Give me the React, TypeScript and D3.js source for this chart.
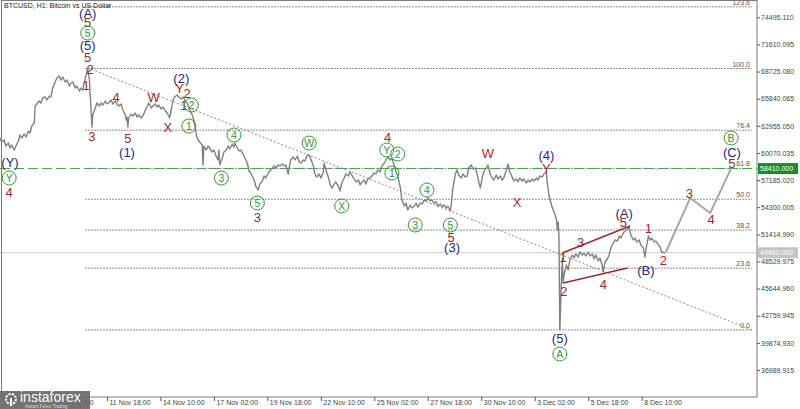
import React, { useEffect, useRef } from "react";
import * as d3 from "d3";

// H1 BTCUSD, hours counted from 6 Nov 2021 10:00
const START = Date.UTC(2021, 10, 6, 10);
const END_HOURS = 906;

// [hour, close]
const btcClose: [number, number][] = [
	[0, 61660], [2, 61234], [5, 61447], [7, 60809], [10, 61128], [12, 60596], [14, 60916], [17, 60384],
	[19, 60809], [22, 61341], [24, 61979], [26, 61660], [29, 62085], [31, 61766], [34, 62405], [36, 62192],
	[38, 62936], [41, 63255], [42, 65063], [44, 65276], [47, 65595], [49, 65382], [51, 65914], [54, 66020],
	[56, 65701], [59, 66126], [61, 66020], [63, 66977], [66, 67615], [68, 68040], [71, 68253], [73, 67828],
	[75, 68147], [78, 67615], [80, 67828], [83, 67190], [85, 67509], [87, 67615], [90, 66977], [92, 67190],
	[95, 66658], [97, 66977], [99, 66764], [101, 67615], [103, 68360], [105, 69104], [107, 67828], [108, 66233],
	[109, 64638], [110, 62830], [111, 64106], [114, 64850], [116, 65382], [119, 65063], [121, 65382], [123, 65169],
	[126, 65595], [128, 65276], [130, 65382], [133, 65701], [135, 65276], [138, 65595], [140, 65276], [142, 65063],
	[145, 65276], [147, 64638], [150, 64106], [151, 63574], [152, 63893], [153, 62830], [154, 63787], [157, 64212],
	[159, 63999], [162, 64319], [164, 63893], [166, 64106], [169, 63787], [171, 63999], [174, 64638], [176, 64957],
	[178, 65382], [181, 64850], [183, 65063], [186, 65276], [188, 64957], [190, 65169], [193, 64744], [195, 64957],
	[198, 64531], [200, 64319], [202, 63999], [203, 63787], [205, 64638], [207, 65701], [209, 66020], [212, 66233],
	[214, 66020], [217, 65808], [219, 66020], [221, 65701], [224, 65382], [226, 64850], [229, 64319], [231, 63893],
	[233, 63043], [235, 61979], [237, 61447], [239, 61234], [242, 60916], [243, 58789], [244, 60809], [247, 60384],
	[249, 60809], [251, 60596], [254, 60171], [256, 60384], [259, 59640], [261, 59321], [262, 60384], [263, 58789],
	[266, 59533], [268, 60171], [271, 60384], [273, 60809], [275, 60490], [278, 61021], [280, 60703], [281, 61128],
	[284, 60596], [286, 60277], [288, 60384], [291, 59958], [293, 59533], [296, 59001], [298, 58150], [300, 57938],
	[303, 57406], [305, 56981], [306, 56555], [309, 56130], [311, 56768], [314, 57087], [316, 57619], [318, 57406],
	[321, 57938], [323, 58150], [326, 58470], [328, 58682], [330, 58470], [333, 58789], [335, 58682], [338, 58895],
	[340, 58682], [342, 58789], [345, 57832], [346, 58470], [348, 59321], [351, 59640], [353, 59321], [356, 59746],
	[358, 59108], [360, 59001], [363, 59321], [365, 59214], [367, 59746], [370, 59852], [372, 59427], [375, 58682],
	[377, 57832], [379, 57513], [382, 57832], [384, 57406], [387, 58045], [388, 59001], [390, 58257], [393, 57513],
	[395, 56768], [397, 56343], [400, 56768], [402, 56981], [405, 56555], [407, 56024], [409, 56875], [412, 57406],
	[414, 57832], [417, 57619], [419, 58045], [421, 57726], [424, 57300], [426, 56981], [429, 57194], [431, 56662],
	[433, 56981], [436, 57194], [438, 56768], [440, 57300], [443, 57406], [445, 57619], [448, 57938], [450, 57832],
	[452, 58257], [455, 58045], [457, 58682], [460, 59001], [462, 59321], [464, 59640], [467, 59321], [469, 59533],
	[472, 58682], [474, 58045], [476, 57619], [479, 56449], [481, 55067], [484, 54429], [486, 54748], [488, 54003],
	[491, 54535], [493, 54216], [496, 54429], [498, 54748], [500, 54322], [503, 54748], [505, 54641], [508, 55067],
	[510, 54961], [512, 55280], [515, 54961], [517, 55067], [519, 54748], [522, 54854], [524, 54429], [527, 54641],
	[529, 54322], [531, 54535], [534, 54216], [536, 54429], [539, 53897], [540, 54535], [542, 56343], [545, 57832],
	[547, 58257], [549, 57726], [552, 57406], [554, 57832], [557, 57513], [559, 57619], [561, 58470], [564, 58789],
	[566, 58363], [569, 58470], [571, 57832], [573, 56981], [575, 56343], [577, 57406], [579, 58045], [582, 58470],
	[584, 58789], [587, 57726], [589, 57406], [591, 57194], [594, 57726], [596, 57300], [599, 57619], [601, 57194],
	[603, 57406], [606, 58257], [608, 58895], [610, 58045], [613, 57513], [615, 57087], [618, 57300], [620, 56981],
	[622, 57406], [625, 57087], [627, 57300], [630, 56875], [632, 57194], [634, 56981], [637, 57300], [639, 57087],
	[642, 57406], [644, 57194], [646, 57619], [649, 57513], [651, 57832], [654, 58045], [655, 56875], [657, 55599],
	[660, 54535], [662, 54003], [664, 53578], [666, 52940], [667, 51877], [668, 52727], [669, 51239], [670, 41243],
	[672, 46560], [673, 48899], [674, 46241], [675, 47092], [678, 48155], [680, 47623], [682, 48687], [685, 49218],
	[687, 48899], [689, 49325], [692, 49006], [694, 49538], [697, 49218], [699, 49431], [701, 49112], [704, 49538],
	[706, 49112], [709, 49325], [711, 48793], [713, 49218], [716, 48580], [718, 48899], [721, 48049], [722, 47411],
	[724, 48474], [727, 48793], [729, 49218], [731, 49963], [734, 50495], [736, 50814], [739, 50707], [741, 51239],
	[743, 51026], [746, 51558], [748, 51770], [751, 51983], [753, 52196], [755, 51345], [758, 50814], [760, 51026],
	[762, 50601], [765, 50814], [767, 50282], [770, 49963], [772, 49006], [773, 49750], [776, 51239], [778, 50814],
	[780, 51026], [783, 50601], [785, 50707], [788, 50282], [790, 50069], [792, 49538], [796, 49431],
];

// forecast path 2-3-4-5
const projHours = [797, 826, 850, 875];
const projPrices = [49538, 55280, 53685, 58430];

// wedge lines of the (A) wave
const channelUpper: [number, number][] = [[673, 49431], [754, 52302]];
const channelLower: [number, number][] = [[674, 46241], [751, 47836]];

// dotted trend line from the top
const trendLine: [number, number][] = [[105, 69104], [900, 41243]];

// fibonacci grid
const fibLow = 41250;
const fibHigh = 69050;
const fibLevels = [0, 23.6, 38.2, 50, 61.8, 76.4, 100, 123.6];
const fibHours = [102, 900];

const supportLevel = 58410;
const lastPrice = 49460;

const yTicks = [
	36989.915, 39874.93, 42759.945, 45644.96, 48529.975, 51414.99, 54300.005,
	57185.02, 60070.035, 62955.05, 65840.065, 68725.08, 71610.095, 74495.11,
];
const xTickLabels = [
	"2021-11-09 02:00", "2021-11-11 18:00", "2021-11-14 10:00", "2021-11-17 02:00",
	"2021-11-19 18:00", "2021-11-22 10:00", "2021-11-25 02:00", "2021-11-27 18:00",
	"2021-11-30 10:00", "2021-12-03 02:00", "2021-12-05 18:00", "2021-12-08 10:00",
];

// wave marks: hour, price, text, kind (r = red, b = navy, g = green circle)
const waveLabels: [number, number, string, string][] = [
	[105, 74953, "(A)", "b"], [105, 73996, "5", "r"], [105, 72826, "5", "g"], [105, 71550, "(5)", "b"],
	[105, 70274, "5", "r"], [108, 68998, "2", "r"], [103, 67296, "1", "r"], [139, 66020, "4", "r"],
	[184, 66020, "W", "r"], [201, 62830, "X", "r"], [217, 68040, "(2)", "b"], [215, 66977, "Y", "r"],
	[224, 66445, "2", "r"], [220, 65169, "1", "r"], [229, 65169, "2", "g"], [226, 62936, "1", "g"],
	[110, 61873, "3", "r"], [153, 61660, "5", "r"], [152, 60171, "(1)", "b"], [12, 59108, "(Y)", "b"],
	[11, 57406, "Y", "g"], [11, 55918, "4", "r"], [280, 61979, "4", "g"], [265, 57406, "3", "g"],
	[308, 54748, "5", "g"], [308, 53259, "3", "r"], [370, 61128, "W", "g"], [409, 54429, "X", "g"],
	[464, 61766, "4", "r"], [463, 60384, "Y", "g"], [476, 59958, "2", "g"], [469, 57938, "1", "g"],
	[511, 56130, "4", "g"], [497, 52408, "3", "g"], [539, 52408, "5", "g"], [540, 51132, "5", "r"],
	[541, 50069, "(3)", "b"], [584, 60065, "W", "r"], [619, 54854, "X", "r"], [654, 59852, "(4)", "b"],
	[654, 58470, "Y", "r"], [670, 40392, "(5)", "b"], [670, 38691, "A", "g"], [674, 49006, "1", "r"],
	[675, 45390, "2", "r"], [695, 50601, "3", "r"], [722, 46134, "4", "r"], [747, 53685, "(A)", "b"],
	[746, 52727, "5", "r"], [776, 52089, "1", "r"], [773, 47623, "(B)", "b"], [794, 48687, "2", "r"],
	[825, 55811, "3", "r"], [851, 53047, "4", "r"], [876, 59001, "5", "r"], [876, 60171, "(C)", "b"],
	[875, 61660, "B", "g"],
];

const W = 800;
const H = 409;
const PLOT_R = 757;
const PLOT_B = 397;
const FONT = "'Liberation Sans', Arial, sans-serif";
const RED = "#a0282b";
const NAVY = "#1f2a80";
const GREEN = "#2f9a36";

const hourDate = (h: number) => new Date(START + h * 3600e3);

export default function App() {
	const svgRef = useRef<SVGSVGElement | null>(null);

	useEffect(() => {
		if (!svgRef.current) return;
		const svg = d3.select(svgRef.current);
		svg.selectAll("*").remove();

		const x = d3.scaleUtc().domain([hourDate(0), hourDate(END_HOURS)]).range([0, PLOT_R]);
		const y = d3.scaleLinear().domain([34118.7, 76229]).range([PLOT_B, 1]);
		const px = (d: [number, number]) => x(hourDate(d[0]));
		const py = (d: [number, number]) => y(d[1]);
		const line = d3.line<[number, number]>().x(px).y(py);

		svg.append("rect").attr("width", W).attr("height", H).attr("fill", "#fff");

		// fibo levels
		const fib = svg.append("g");
		fibLevels.forEach((lv) => {
			const price = fibLow + (fibHigh - fibLow) * (lv / 100);
			fib.append("line")
				.attr("x1", x(hourDate(fibHours[0]))).attr("x2", x(hourDate(fibHours[1])))
				.attr("y1", y(price)).attr("y2", y(price))
				.attr("stroke", "#6a6a6a").attr("stroke-dasharray", "1.5,1.5");
			fib.append("text")
				.attr("x", x(hourDate(fibHours[1])) - 2).attr("y", y(price) - 2)
				.attr("text-anchor", "end").attr("font-size", 7).attr("font-family", FONT)
				.attr("fill", "#555").text(lv.toFixed(1));
		});

		// support and last price
		svg.append("line").attr("x1", 0).attr("x2", PLOT_R)
			.attr("y1", y(supportLevel)).attr("y2", y(supportLevel))
			.attr("stroke", "#49a049").attr("stroke-dasharray", "10,4");
		svg.append("line").attr("x1", 0).attr("x2", PLOT_R)
			.attr("y1", y(lastPrice)).attr("y2", y(lastPrice))
			.attr("stroke", "#cfcfcf");

		svg.append("path").datum(trendLine).attr("d", line)
			.attr("fill", "none").attr("stroke", "#8a8a8a").attr("stroke-dasharray", "2,2");

		// price
		svg.append("path").datum(btcClose).attr("d", line)
			.attr("fill", "none").attr("stroke", "#808080").attr("stroke-width", 1.4)
			.attr("stroke-linejoin", "round");

		[channelUpper, channelLower].forEach((c) => {
			svg.append("path").datum(c).attr("d", line)
				.attr("fill", "none").attr("stroke", RED).attr("stroke-width", 1.5);
		});

		const proj = projHours.map((h, i) => [h, projPrices[i]] as [number, number]);
		svg.append("path").datum(proj).attr("d", line)
			.attr("fill", "none").attr("stroke", "#a8a8a8").attr("stroke-width", 2);

		// wave labels
		const lab = svg.append("g").attr("font-family", FONT);
		waveLabels.forEach(([h, p, t, k]) => {
			const cx = x(hourDate(h));
			const cy = y(p);
			if (k === "g") {
				lab.append("circle").attr("cx", cx).attr("cy", cy).attr("r", 7)
					.attr("fill", "none").attr("stroke", GREEN).attr("stroke-width", 1);
				lab.append("text").attr("x", cx).attr("y", cy).attr("dy", "0.36em")
					.attr("text-anchor", "middle").attr("font-size", 10.5).attr("fill", GREEN).text(t);
			} else {
				lab.append("text").attr("x", cx).attr("y", cy).attr("dy", "0.36em")
					.attr("text-anchor", "middle").attr("font-size", 13)
					.attr("fill", k === "b" ? NAVY : RED).text(t);
			}
		});

		// frame
		svg.append("rect").attr("x", 1.5).attr("y", 0.5).attr("width", PLOT_R - 1.5).attr("height", PLOT_B - 0.5)
			.attr("fill", "none").attr("stroke", "#7a7a7a");

		// axes
		const parse = d3.utcParse("%Y-%m-%d %H:%M");
		const gx = svg.append("g").attr("transform", `translate(0,${PLOT_B})`)
			.call(d3.axisBottom(x).tickValues(xTickLabels.map((s) => parse(s) as Date))
				.tickSize(4).tickFormat((d) => d3.utcFormat("%-d %b %H:%M")(d as Date)));
		gx.select(".domain").remove();
		gx.selectAll("line").attr("stroke", "#555");
		gx.selectAll("text").attr("text-anchor", "start").attr("x", 2).attr("y", 3)
			.attr("font-size", 7).attr("font-family", FONT).attr("fill", "#444");

		const gy = svg.append("g").attr("transform", `translate(${PLOT_R},0)`)
			.call(d3.axisRight(y).tickValues(yTicks).tickSize(3).tickFormat((d) => (+d).toFixed(3)));
		gy.select(".domain").remove();
		gy.selectAll("line").attr("stroke", "#555");
		gy.selectAll("text").attr("x", 4).attr("font-size", 7).attr("font-family", FONT).attr("fill", "#444");

		// price boxes on the scale
		const box = (price: number, fill: string, label: string) => {
			svg.append("rect").attr("x", PLOT_R + 1).attr("y", y(price) - 5.5).attr("width", 40).attr("height", 11)
				.attr("fill", fill);
			svg.append("text").attr("x", PLOT_R + 3).attr("y", y(price)).attr("dy", "0.35em")
				.attr("font-size", 7).attr("font-family", FONT).attr("fill", "#fff").text(label);
		};
		box(supportLevel, "#1f8a25", "58410.000");
		box(lastPrice, "#c4c4c4", "49460.000");

		svg.append("text").attr("x", 4).attr("y", 8).attr("font-size", 7).attr("font-family", FONT)
			.attr("fill", "#222").text("BTCUSD, H1:  Bitcoin vs US Dollar");

		// logo
		const logo = svg.append("g");
		logo.append("rect").attr("x", 0).attr("y", 391).attr("width", 90).attr("height", 18)
			.attr("fill", "#6b6b6b").attr("opacity", 0.95);
		logo.append("circle").attr("cx", 11).attr("cy", 399).attr("r", 5)
			.attr("fill", "none").attr("stroke", "#fff").attr("stroke-width", 2).attr("stroke-dasharray", "2.2,1.2");
		logo.append("rect").attr("x", 10).attr("y", 398).attr("width", 2).attr("height", 8).attr("fill", "#fff");
		logo.append("text").attr("x", 20).attr("y", 402).attr("font-size", 14).attr("font-family", FONT)
			.attr("fill", "#fff").text("instaforex");
		logo.append("text").attr("x", 25).attr("y", 407.5).attr("font-size", 4.5).attr("font-family", FONT)
			.attr("fill", "#ddd").text("Instant Forex Trading");
	}, []);

	return (
		<svg
			ref={svgRef}
			width={W}
			height={H}
			style={{ position: "absolute", left: 0, top: 0, display: "block" }}
		/>
	);
}
